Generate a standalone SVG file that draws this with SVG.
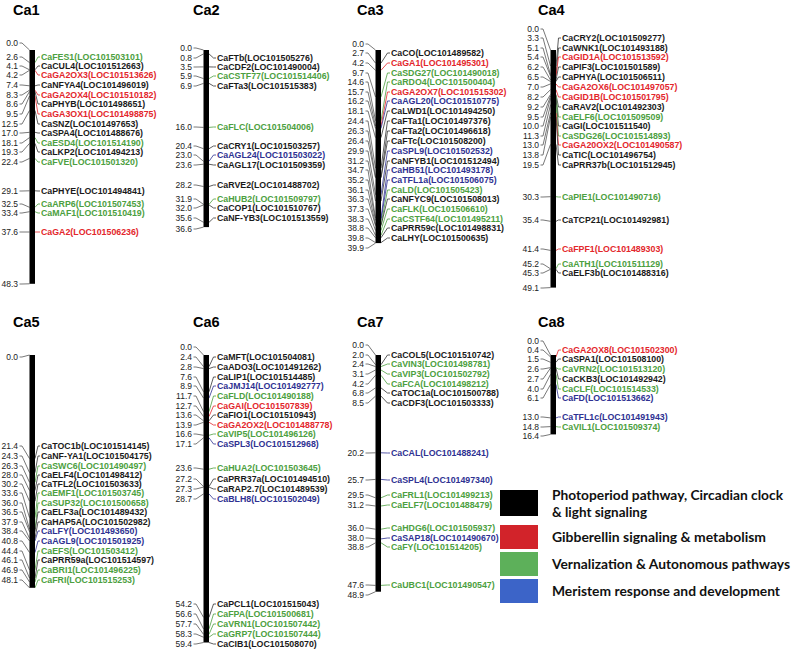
<svg xmlns="http://www.w3.org/2000/svg" width="793" height="658" viewBox="0 0 793 658">
<style>
text{font-family:"Liberation Sans",Arial,sans-serif;dominant-baseline:central}
.t{font-weight:bold;font-size:14.5px;fill:#000;dominant-baseline:auto}
.n{font-size:8.5px;fill:#222;text-anchor:end}
.g{font-weight:bold;font-size:8.8px}
.k{fill:#1a1a1a}.r{fill:#e3262b}.gr{fill:#4ca040}.b{fill:#2e3192}
.bar{fill:#000}
#connectors path{fill:none;stroke-width:0.8}
.ck{stroke:#333}.cl{stroke:#555}.cr{stroke:#e3262b}.cg{stroke:#4ca040}.cb{stroke:#2e3192}
.lg{font-family:Lato,"Liberation Sans",sans-serif;font-weight:bold;font-size:13.5px;fill:#111;dominant-baseline:auto}
</style>
<g id="connectors">
<g class="cl">
<path d="M19.5 43H22L29.5 50"/><path d="M19.5 57H22L29.5 62.6"/><path d="M19.5 66H22L29.5 69.8"/><path d="M19.5 75H22L29.5 70.3"/><path d="M19.5 85H22L29.5 85.8"/><path d="M19.5 95H22L29.5 90.2"/><path d="M19.5 104H22L29.5 91.6"/><path d="M19.5 114H22L29.5 96"/><path d="M19.5 124H22L29.5 110.5"/><path d="M19.5 133H22L29.5 132.3"/><path d="M19.5 143H22L29.5 137.6"/><path d="M19.5 152H22L29.5 143.4"/><path d="M19.5 162H22L29.5 158.4"/><path d="M19.5 191H22L29.5 190.8"/><path d="M19.5 204H22L29.5 207.3"/><path d="M19.5 213H22L29.5 211.7"/><path d="M19.5 232H22L29.5 232"/><path d="M19.5 284H22L29.5 283.8"/>
<path d="M193.5 48H196L203.5 50"/><path d="M193.5 58H196L203.5 53.9"/><path d="M193.5 67H196L203.5 66.9"/><path d="M193.5 76H196L203.5 78.6"/><path d="M193.5 86H196L203.5 83.4"/><path d="M193.5 127H196L203.5 127.4"/><path d="M193.5 146H196L203.5 148.7"/><path d="M193.5 155H196L203.5 161.3"/><path d="M193.5 165H196L203.5 164.2"/><path d="M193.5 185H196L203.5 186.5"/><path d="M193.5 199H196L203.5 204.4"/><path d="M193.5 208H196L203.5 204.9"/><path d="M193.5 218H196L203.5 222.3"/><path d="M193.5 229H196L203.5 227.1"/>
<path d="M365.5 44H368L375.5 50"/><path d="M365.5 53H368L375.5 63.1"/><path d="M365.5 63H368L375.5 70.3"/><path d="M365.5 73H368L375.5 96.9"/><path d="M365.5 82H368L375.5 120.7"/><path d="M365.5 92H368L375.5 126"/><path d="M365.5 101H368L375.5 128.4"/><path d="M365.5 111H368L375.5 137.6"/><path d="M365.5 121H368L375.5 168.1"/><path d="M365.5 131H368L375.5 177.3"/><path d="M365.5 141H368L375.5 177.8"/><path d="M365.5 151H368L375.5 194.7"/><path d="M365.5 161H368L375.5 201"/><path d="M365.5 170H368L375.5 218"/><path d="M365.5 180H368L375.5 220.4"/><path d="M365.5 190H368L375.5 224.7"/><path d="M365.5 199H368L375.5 225.7"/><path d="M365.5 209H368L375.5 230.5"/><path d="M365.5 219H368L375.5 235.4"/><path d="M365.5 228H368L375.5 237.8"/><path d="M365.5 238H368L375.5 242.6"/><path d="M365.5 248H368L375.5 243.1"/>
<path d="M540.5 29H543L550.5 50"/><path d="M540.5 38H543L550.5 66"/><path d="M540.5 48H543L550.5 74.7"/><path d="M540.5 57H543L550.5 76.1"/><path d="M540.5 67H543L550.5 80"/><path d="M540.5 77H543L550.5 81.5"/><path d="M540.5 87H543L550.5 83.9"/><path d="M540.5 97H543L550.5 89.7"/><path d="M540.5 107H543L550.5 94.5"/><path d="M540.5 117H543L550.5 96"/><path d="M540.5 126H543L550.5 98.4"/><path d="M540.5 136H543L550.5 104.7"/><path d="M540.5 145H543L550.5 112.9"/><path d="M540.5 155H543L550.5 116.8"/><path d="M540.5 165H543L550.5 144.4"/><path d="M540.5 197H543L550.5 196.7"/><path d="M540.5 220H543L550.5 221.3"/><path d="M540.5 249H543L550.5 250.4"/><path d="M540.5 264H543L550.5 268.8"/><path d="M540.5 273H543L550.5 269.3"/><path d="M540.5 288H543L550.5 287.6"/>
<path d="M19.5 357H22L29.5 355"/><path d="M19.5 446H22L29.5 458.6"/><path d="M19.5 456H22L29.5 472.6"/><path d="M19.5 466H22L29.5 482.3"/><path d="M19.5 475H22L29.5 490.5"/><path d="M19.5 484H22L29.5 501.2"/><path d="M19.5 493H22L29.5 517.6"/><path d="M19.5 503H22L29.5 529.2"/><path d="M19.5 512H22L29.5 531.7"/><path d="M19.5 522H22L29.5 538.4"/><path d="M19.5 531H22L29.5 540.9"/><path d="M19.5 541H22L29.5 552.5"/><path d="M19.5 551H22L29.5 569.9"/><path d="M19.5 560H22L29.5 578.1"/><path d="M19.5 570H22L29.5 582"/><path d="M19.5 580H22L29.5 587.8"/>
<path d="M193.5 347H196L203.5 355"/><path d="M193.5 357H196L203.5 366.6"/><path d="M193.5 367H196L203.5 368.6"/><path d="M193.5 377H196L203.5 391.8"/><path d="M193.5 386H196L203.5 398.1"/><path d="M193.5 396H196L203.5 411.6"/><path d="M193.5 406H196L203.5 416.5"/><path d="M193.5 415H196L203.5 420.8"/><path d="M193.5 425H196L203.5 422.3"/><path d="M193.5 434H196L203.5 435.3"/><path d="M193.5 444H196L203.5 437.8"/><path d="M193.5 468H196L203.5 469.2"/><path d="M193.5 479H196L203.5 486.6"/><path d="M193.5 489H196L203.5 487.1"/><path d="M193.5 499H196L203.5 493.9"/><path d="M193.5 604H196L203.5 617.3"/><path d="M193.5 614H196L203.5 628.9"/><path d="M193.5 624H196L203.5 634.3"/><path d="M193.5 634H196L203.5 637.2"/><path d="M193.5 644H196L203.5 642.5"/>
<path d="M365.5 345H368L375.5 355"/><path d="M365.5 355H368L375.5 364.7"/><path d="M365.5 364H368L375.5 366.6"/><path d="M365.5 374H368L375.5 370"/><path d="M365.5 384H368L375.5 375.3"/><path d="M365.5 393H368L375.5 387.9"/><path d="M365.5 403H368L375.5 396.1"/><path d="M365.5 453H368L375.5 452.8"/><path d="M365.5 480H368L375.5 479.4"/><path d="M365.5 495H368L375.5 497.8"/><path d="M365.5 505H368L375.5 506"/><path d="M365.5 528H368L375.5 529.2"/><path d="M365.5 538H368L375.5 538.9"/><path d="M365.5 547H368L375.5 542.8"/><path d="M365.5 585H368L375.5 585.4"/><path d="M365.5 595H368L375.5 591.7"/>
<path d="M540.5 341H543L550.5 355"/><path d="M540.5 350H543L550.5 356.9"/><path d="M540.5 359H543L550.5 362.3"/><path d="M540.5 369H543L550.5 367.6"/><path d="M540.5 379H543L550.5 368.1"/><path d="M540.5 389H543L550.5 374.4"/><path d="M540.5 398H543L550.5 384.5"/><path d="M540.5 417H543L550.5 417.9"/><path d="M540.5 427H543L550.5 426.6"/><path d="M540.5 436H543L550.5 434.4"/>
</g>
<path class="cg" d="M35 62.6L38 57H40"/><path class="ck" d="M35 69.8L38 66H40"/><path class="cr" d="M35 70.3L38 75H40"/><path class="ck" d="M35 85.8L38 85H40"/><path class="cr" d="M35 90.2L38 95H40"/><path class="ck" d="M35 91.6L38 104H40"/><path class="cr" d="M35 96L38 114H40"/><path class="ck" d="M35 110.5L38 124H40"/><path class="ck" d="M35 132.3L38 133H40"/><path class="cg" d="M35 137.6L38 143H40"/><path class="ck" d="M35 143.4L38 152H40"/><path class="cg" d="M35 158.4L38 162H40"/><path class="ck" d="M35 190.8L38 191H40"/><path class="cg" d="M35 207.3L38 204H40"/><path class="cg" d="M35 211.7L38 213H40"/><path class="cr" d="M35 232L38 232H40"/>
<path class="ck" d="M209 53.9L213.5 58H216"/><path class="ck" d="M209 66.9L213.5 67H216"/><path class="cg" d="M209 78.6L213.5 76H216"/><path class="ck" d="M209 83.4L213.5 86H216"/><path class="cg" d="M209 127.4L213.5 127H216"/><path class="ck" d="M209 148.7L213.5 146H216"/><path class="cb" d="M209 161.3L213.5 155H216"/><path class="ck" d="M209 164.2L213.5 165H216"/><path class="ck" d="M209 186.5L213.5 185H216"/><path class="cg" d="M209 204.4L213.5 199H216"/><path class="ck" d="M209 204.9L213.5 208H216"/><path class="ck" d="M209 222.3L213.5 218H216"/>
<path class="ck" d="M381 63.1L387.5 53H390"/><path class="cr" d="M381 70.3L387.5 63H390"/><path class="cg" d="M381 96.9L387.5 73H390"/><path class="cg" d="M381 120.7L387.5 82H390"/><path class="cr" d="M381 126L387.5 92H390"/><path class="cb" d="M381 128.4L387.5 101H390"/><path class="ck" d="M381 137.6L387.5 111H390"/><path class="ck" d="M381 168.1L387.5 121H390"/><path class="ck" d="M381 177.3L387.5 131H390"/><path class="ck" d="M381 177.8L387.5 141H390"/><path class="cb" d="M381 194.7L387.5 151H390"/><path class="ck" d="M381 201L387.5 161H390"/><path class="cb" d="M381 218L387.5 170H390"/><path class="cb" d="M381 220.4L387.5 180H390"/><path class="cg" d="M381 224.7L387.5 190H390"/><path class="ck" d="M381 225.7L387.5 199H390"/><path class="cg" d="M381 230.5L387.5 209H390"/><path class="cg" d="M381 235.4L387.5 219H390"/><path class="ck" d="M381 237.8L387.5 228H390"/><path class="ck" d="M381 242.6L387.5 238H390"/>
<path class="ck" d="M556 66L558.5 38H561"/><path class="ck" d="M556 74.7L558.5 48H561"/><path class="cr" d="M556 76.1L558.5 57H561"/><path class="ck" d="M556 80L558.5 67H561"/><path class="ck" d="M556 81.5L558.5 77H561"/><path class="cr" d="M556 83.9L558.5 87H561"/><path class="cr" d="M556 89.7L558.5 97H561"/><path class="ck" d="M556 94.5L558.5 107H561"/><path class="cg" d="M556 96L558.5 117H561"/><path class="ck" d="M556 98.4L558.5 126H561"/><path class="cg" d="M556 104.7L558.5 136H561"/><path class="cr" d="M556 112.9L558.5 145H561"/><path class="ck" d="M556 116.8L558.5 155H561"/><path class="ck" d="M556 144.4L558.5 165H561"/><path class="cg" d="M556 196.7L558.5 197H561"/><path class="ck" d="M556 221.3L558.5 220H561"/><path class="cr" d="M556 250.4L558.5 249H561"/><path class="cg" d="M556 268.8L558.5 264H561"/><path class="ck" d="M556 269.3L558.5 273H561"/>
<path class="ck" d="M35 458.6L38 446H40"/><path class="ck" d="M35 472.6L38 456H40"/><path class="cg" d="M35 482.3L38 466H40"/><path class="ck" d="M35 490.5L38 475H40"/><path class="ck" d="M35 501.2L38 484H40"/><path class="cg" d="M35 517.6L38 493H40"/><path class="cg" d="M35 529.2L38 503H40"/><path class="ck" d="M35 531.7L38 512H40"/><path class="ck" d="M35 538.4L38 522H40"/><path class="cb" d="M35 540.9L38 531H40"/><path class="cb" d="M35 552.5L38 541H40"/><path class="cg" d="M35 569.9L38 551H40"/><path class="ck" d="M35 578.1L38 560H40"/><path class="cg" d="M35 582L38 570H40"/><path class="cg" d="M35 587.8L38 580H40"/>
<path class="ck" d="M209 366.6L213.5 357H216"/><path class="ck" d="M209 368.6L213.5 367H216"/><path class="ck" d="M209 391.8L213.5 377H216"/><path class="cb" d="M209 398.1L213.5 386H216"/><path class="cg" d="M209 411.6L213.5 396H216"/><path class="cr" d="M209 416.5L213.5 406H216"/><path class="ck" d="M209 420.8L213.5 415H216"/><path class="cr" d="M209 422.3L213.5 425H216"/><path class="cg" d="M209 435.3L213.5 434H216"/><path class="cb" d="M209 437.8L213.5 444H216"/><path class="cg" d="M209 469.2L213.5 468H216"/><path class="ck" d="M209 486.6L213.5 479H216"/><path class="ck" d="M209 487.1L213.5 489H216"/><path class="cb" d="M209 493.9L213.5 499H216"/><path class="ck" d="M209 617.3L213.5 604H216"/><path class="cg" d="M209 628.9L213.5 614H216"/><path class="cg" d="M209 634.3L213.5 624H216"/><path class="cg" d="M209 637.2L213.5 634H216"/><path class="ck" d="M209 642.5L213.5 644H216"/>
<path class="ck" d="M381 364.7L387.5 355H390"/><path class="cg" d="M381 366.6L387.5 364H390"/><path class="cg" d="M381 370L387.5 374H390"/><path class="cg" d="M381 375.3L387.5 384H390"/><path class="ck" d="M381 387.9L387.5 393H390"/><path class="ck" d="M381 396.1L387.5 403H390"/><path class="cb" d="M381 452.8L387.5 453H390"/><path class="cb" d="M381 479.4L387.5 480H390"/><path class="cg" d="M381 497.8L387.5 495H390"/><path class="cg" d="M381 506L387.5 505H390"/><path class="cg" d="M381 529.2L387.5 528H390"/><path class="cb" d="M381 538.9L387.5 538H390"/><path class="cg" d="M381 542.8L387.5 547H390"/><path class="cg" d="M381 585.4L387.5 585H390"/>
<path class="cr" d="M556 356.9L558.5 350H561"/><path class="ck" d="M556 362.3L558.5 359H561"/><path class="cg" d="M556 367.6L558.5 369H561"/><path class="ck" d="M556 368.1L558.5 379H561"/><path class="cg" d="M556 374.4L558.5 389H561"/><path class="cb" d="M556 384.5L558.5 398H561"/><path class="cb" d="M556 417.9L558.5 417H561"/><path class="cg" d="M556 426.6L558.5 427H561"/>
</g>
<g id="Ca1">
<text class="t" x="13" y="15">Ca1</text>
<rect class="bar" x="29.5" y="50" width="5.5" height="233.8"/>
<g class="n"><text x="18" y="43">0.0</text><text x="18" y="57">2.6</text><text x="18" y="66">4.1</text><text x="18" y="75">4.2</text><text x="18" y="85">7.4</text><text x="18" y="95">8.3</text><text x="18" y="104">8.6</text><text x="18" y="114">9.5</text><text x="18" y="124">12.5</text><text x="18" y="133">17.0</text><text x="18" y="143">18.1</text><text x="18" y="152">19.3</text><text x="18" y="162">22.4</text><text x="18" y="191">29.1</text><text x="18" y="204">32.5</text><text x="18" y="213">33.4</text><text x="18" y="232">37.6</text><text x="18" y="284">48.3</text></g>
<g class="g"><text class="gr" x="41" y="57">CaFES1(LOC101503101)</text><text class="k" x="41" y="66">CaCUL4(LOC101512663)</text><text class="r" x="41" y="75">CaGA2OX3(LOC101513626)</text><text class="k" x="41" y="85">CaNFYA4(LOC101496019)</text><text class="r" x="41" y="95">CaGA2OX4(LOC101510182)</text><text class="k" x="41" y="104">CaPHYB(LOC101498651)</text><text class="r" x="41" y="114">CaGA3OX1(LOC101498875)</text><text class="k" x="41" y="124">CaSNZ(LOC101497653)</text><text class="k" x="41" y="133">CaSPA4(LOC101488676)</text><text class="gr" x="41" y="143">CaESD4(LOC101514190)</text><text class="k" x="41" y="152">CaLKP2(LOC101494213)</text><text class="gr" x="41" y="162">CaFVE(LOC101501320)</text><text class="k" x="41" y="191">CaPHYE(LOC101494841)</text><text class="gr" x="41" y="204">CaARP6(LOC101507453)</text><text class="gr" x="41" y="213">CaMAF1(LOC101510419)</text><text class="r" x="41" y="232">CaGA2(LOC101506236)</text></g>
</g>
<g id="Ca2">
<text class="t" x="193" y="15">Ca2</text>
<rect class="bar" x="203.5" y="50" width="5.5" height="177.1"/>
<g class="n"><text x="192" y="48">0.0</text><text x="192" y="58">0.8</text><text x="192" y="67">3.5</text><text x="192" y="76">5.9</text><text x="192" y="86">6.9</text><text x="192" y="127">16.0</text><text x="192" y="146">20.4</text><text x="192" y="155">23.0</text><text x="192" y="165">23.6</text><text x="192" y="185">28.2</text><text x="192" y="199">31.9</text><text x="192" y="208">32.0</text><text x="192" y="218">35.6</text><text x="192" y="229">36.6</text></g>
<g class="g"><text class="k" x="217" y="58">CaFTb(LOC101505276)</text><text class="k" x="217" y="67">CaCDF2(LOC101490004)</text><text class="gr" x="217" y="76">CaCSTF77(LOC101514406)</text><text class="k" x="217" y="86">CaFTa3(LOC101515383)</text><text class="gr" x="217" y="127">CaFLC(LOC101504006)</text><text class="k" x="217" y="146">CaCRY1(LOC101503257)</text><text class="b" x="217" y="155">CaAGL24(LOC101503022)</text><text class="k" x="217" y="165">CaAGL17(LOC101509359)</text><text class="k" x="217" y="185">CaRVE2(LOC101488702)</text><text class="gr" x="217" y="199">CaHUB2(LOC101509797)</text><text class="k" x="217" y="208">CaCOP1(LOC101510767)</text><text class="k" x="217" y="218">CaNF-YB3(LOC101513559)</text></g>
</g>
<g id="Ca3">
<text class="t" x="357" y="15">Ca3</text>
<rect class="bar" x="375.5" y="50" width="5.5" height="193.1"/>
<g class="n"><text x="364" y="44">0.0</text><text x="364" y="53">2.7</text><text x="364" y="63">4.2</text><text x="364" y="73">9.7</text><text x="364" y="82">14.6</text><text x="364" y="92">15.7</text><text x="364" y="101">16.2</text><text x="364" y="111">18.1</text><text x="364" y="121">24.4</text><text x="364" y="131">26.3</text><text x="364" y="141">26.4</text><text x="364" y="151">29.9</text><text x="364" y="161">31.2</text><text x="364" y="170">34.7</text><text x="364" y="180">35.2</text><text x="364" y="190">36.1</text><text x="364" y="199">36.3</text><text x="364" y="209">37.3</text><text x="364" y="219">38.3</text><text x="364" y="228">38.8</text><text x="364" y="238">39.8</text><text x="364" y="248">39.9</text></g>
<g class="g"><text class="k" x="391" y="53">CaCO(LOC101489582)</text><text class="r" x="391" y="63">CaGA1(LOC101495301)</text><text class="gr" x="391" y="73">CaSDG27(LOC101490018)</text><text class="gr" x="391" y="82">CaRDO4(LOC101500404)</text><text class="r" x="391" y="92">CaGA2OX7(LOC101515302)</text><text class="b" x="391" y="101">CaAGL20(LOC101510775)</text><text class="k" x="391" y="111">CaLWD1(LOC101494250)</text><text class="k" x="391" y="121">CaFTa1(LOC101497376)</text><text class="k" x="391" y="131">CaFTa2(LOC101496618)</text><text class="k" x="391" y="141">CaFTc(LOC101508200)</text><text class="b" x="391" y="151">CaSPL9(LOC101502532)</text><text class="k" x="391" y="161">CaNFYB1(LOC101512494)</text><text class="b" x="391" y="170">CaHB51(LOC101493178)</text><text class="b" x="391" y="180">CaTFL1a(LOC101506075)</text><text class="gr" x="391" y="190">CaLD(LOC101505423)</text><text class="k" x="391" y="199">CaNFYC9(LOC101508013)</text><text class="gr" x="391" y="209">CaFLK(LOC101506610)</text><text class="gr" x="391" y="219">CaCSTF64(LOC101495211)</text><text class="k" x="391" y="228">CaPRR59c(LOC101498831)</text><text class="k" x="391" y="238">CaLHY(LOC101500635)</text></g>
</g>
<g id="Ca4">
<text class="t" x="538" y="15">Ca4</text>
<rect class="bar" x="550.5" y="50" width="5.5" height="237.6"/>
<g class="n"><text x="539" y="29">0.0</text><text x="539" y="38">3.3</text><text x="539" y="48">5.1</text><text x="539" y="57">5.4</text><text x="539" y="67">6.2</text><text x="539" y="77">6.5</text><text x="539" y="87">7.0</text><text x="539" y="97">8.2</text><text x="539" y="107">9.2</text><text x="539" y="117">9.5</text><text x="539" y="126">10.0</text><text x="539" y="136">11.3</text><text x="539" y="145">13.0</text><text x="539" y="155">13.8</text><text x="539" y="165">19.5</text><text x="539" y="197">30.3</text><text x="539" y="220">35.4</text><text x="539" y="249">41.4</text><text x="539" y="264">45.2</text><text x="539" y="273">45.3</text><text x="539" y="288">49.1</text></g>
<g class="g"><text class="k" x="562" y="38">CaCRY2(LOC101509277)</text><text class="k" x="562" y="48">CaWNK1(LOC101493188)</text><text class="r" x="562" y="57">CaGID1A(LOC101513592)</text><text class="k" x="562" y="67">CaPIF3(LOC101501589)</text><text class="k" x="562" y="77">CaPHYA(LOC101506511)</text><text class="r" x="562" y="87">CaGA2OX6(LOC101497057)</text><text class="r" x="562" y="97">CaGID1B(LOC101501795)</text><text class="k" x="562" y="107">CaRAV2(LOC101492303)</text><text class="gr" x="562" y="117">CaELF6(LOC101509509)</text><text class="k" x="562" y="126">CaGI(LOC101511540)</text><text class="gr" x="562" y="136">CaSDG26(LOC101514893)</text><text class="r" x="562" y="145">CaGA20OX2(LOC101490587)</text><text class="k" x="562" y="155">CaTIC(LOC101496754)</text><text class="k" x="562" y="165">CaPRR37b(LOC101512945)</text><text class="gr" x="562" y="197">CaPIE1(LOC101490716)</text><text class="k" x="562" y="220">CaTCP21(LOC101492981)</text><text class="r" x="562" y="249">CaFPF1(LOC101489303)</text><text class="gr" x="562" y="264">CaATH1(LOC101511129)</text><text class="k" x="562" y="273">CaELF3b(LOC101488316)</text></g>
</g>
<g id="Ca5">
<text class="t" x="13" y="327">Ca5</text>
<rect class="bar" x="29.5" y="355" width="5.5" height="232.8"/>
<g class="n"><text x="18" y="357">0.0</text><text x="18" y="446">21.4</text><text x="18" y="456">24.3</text><text x="18" y="466">26.3</text><text x="18" y="475">28.0</text><text x="18" y="484">30.2</text><text x="18" y="493">33.6</text><text x="18" y="503">36.0</text><text x="18" y="512">36.5</text><text x="18" y="522">37.9</text><text x="18" y="531">38.4</text><text x="18" y="541">40.8</text><text x="18" y="551">44.4</text><text x="18" y="560">46.1</text><text x="18" y="570">46.9</text><text x="18" y="580">48.1</text></g>
<g class="g"><text class="k" x="41" y="446">CaTOC1b(LOC101514145)</text><text class="k" x="41" y="456">CaNF-YA1(LOC101504175)</text><text class="gr" x="41" y="466">CaSWC6(LOC101490497)</text><text class="k" x="41" y="475">CaELF4(LOC101498412)</text><text class="k" x="41" y="484">CaTFL2(LOC101503633)</text><text class="gr" x="41" y="493">CaEMF1(LOC101503745)</text><text class="gr" x="41" y="503">CaSUP32(LOC101500658)</text><text class="k" x="41" y="512">CaELF3a(LOC101489432)</text><text class="k" x="41" y="522">CaHAP5A(LOC101502982)</text><text class="b" x="41" y="531">CaLFY(LOC101493650)</text><text class="b" x="41" y="541">CaAGL9(LOC101501925)</text><text class="gr" x="41" y="551">CaEFS(LOC101503412)</text><text class="k" x="41" y="560">CaPRR59a(LOC101514597)</text><text class="gr" x="41" y="570">CaBRI1(LOC101496225)</text><text class="gr" x="41" y="580">CaFRI(LOC101515253)</text></g>
</g>
<g id="Ca6">
<text class="t" x="193" y="327">Ca6</text>
<rect class="bar" x="203.5" y="355" width="5.5" height="287.5"/>
<g class="n"><text x="192" y="347">0.0</text><text x="192" y="357">2.4</text><text x="192" y="367">2.8</text><text x="192" y="377">7.6</text><text x="192" y="386">8.9</text><text x="192" y="396">11.7</text><text x="192" y="406">12.7</text><text x="192" y="415">13.6</text><text x="192" y="425">13.9</text><text x="192" y="434">16.6</text><text x="192" y="444">17.1</text><text x="192" y="468">23.6</text><text x="192" y="479">27.2</text><text x="192" y="489">27.3</text><text x="192" y="499">28.7</text><text x="192" y="604">54.2</text><text x="192" y="614">56.6</text><text x="192" y="624">57.7</text><text x="192" y="634">58.3</text><text x="192" y="644">59.4</text></g>
<g class="g"><text class="k" x="217" y="357">CaMFT(LOC101504081)</text><text class="k" x="217" y="367">CaADO3(LOC101491262)</text><text class="k" x="217" y="377">CaLIP1(LOC101514485)</text><text class="b" x="217" y="386">CaJMJ14(LOC101492777)</text><text class="gr" x="217" y="396">CaFLD(LOC101490188)</text><text class="r" x="217" y="406">CaGAI(LOC101507839)</text><text class="k" x="217" y="415">CaFIO1(LOC101510943)</text><text class="r" x="217" y="425">CaGA2OX2(LOC101488778)</text><text class="gr" x="217" y="434">CaVIP5(LOC101496126)</text><text class="b" x="217" y="444">CaSPL3(LOC101512968)</text><text class="gr" x="217" y="468">CaHUA2(LOC101503645)</text><text class="k" x="217" y="479">CaPRR37a(LOC101494510)</text><text class="k" x="217" y="489">CaRAP2.7(LOC101489539)</text><text class="b" x="217" y="499">CaBLH8(LOC101502049)</text><text class="k" x="217" y="604">CaPCL1(LOC101515043)</text><text class="gr" x="217" y="614">CaFPA(LOC101500681)</text><text class="gr" x="217" y="624">CaVRN1(LOC101507442)</text><text class="gr" x="217" y="634">CaGRP7(LOC101507444)</text><text class="k" x="217" y="644">CaCIB1(LOC101508070)</text></g>
</g>
<g id="Ca7">
<text class="t" x="357" y="327">Ca7</text>
<rect class="bar" x="375.5" y="355" width="5.5" height="236.7"/>
<g class="n"><text x="364" y="345">0.0</text><text x="364" y="355">2.0</text><text x="364" y="364">2.4</text><text x="364" y="374">3.1</text><text x="364" y="384">4.2</text><text x="364" y="393">6.8</text><text x="364" y="403">8.5</text><text x="364" y="453">20.2</text><text x="364" y="480">25.7</text><text x="364" y="495">29.5</text><text x="364" y="505">31.2</text><text x="364" y="528">36.0</text><text x="364" y="538">38.0</text><text x="364" y="547">38.8</text><text x="364" y="585">47.6</text><text x="364" y="595">48.9</text></g>
<g class="g"><text class="k" x="391" y="355">CaCOL5(LOC101510742)</text><text class="gr" x="391" y="364">CaVIN3(LOC101498781)</text><text class="gr" x="391" y="374">CaVIP3(LOC101502792)</text><text class="gr" x="391" y="384">CaFCA(LOC101498212)</text><text class="k" x="391" y="393">CaTOC1a(LOC101500788)</text><text class="k" x="391" y="403">CaCDF3(LOC101503333)</text><text class="b" x="391" y="453">CaCAL(LOC101488241)</text><text class="b" x="391" y="480">CaSPL4(LOC101497340)</text><text class="gr" x="391" y="495">CaFRL1(LOC101499213)</text><text class="gr" x="391" y="505">CaELF7(LOC101488479)</text><text class="gr" x="391" y="528">CaHDG6(LOC101505937)</text><text class="b" x="391" y="538">CaSAP18(LOC101490670)</text><text class="gr" x="391" y="547">CaFY(LOC101514205)</text><text class="gr" x="391" y="585">CaUBC1(LOC101490547)</text></g>
</g>
<g id="Ca8">
<text class="t" x="538" y="327">Ca8</text>
<rect class="bar" x="550.5" y="355" width="5.5" height="79.4"/>
<g class="n"><text x="539" y="341">0.0</text><text x="539" y="350">0.4</text><text x="539" y="359">1.5</text><text x="539" y="369">2.6</text><text x="539" y="379">2.7</text><text x="539" y="389">4.0</text><text x="539" y="398">6.1</text><text x="539" y="417">13.0</text><text x="539" y="427">14.8</text><text x="539" y="436">16.4</text></g>
<g class="g"><text class="r" x="562" y="350">CaGA2OX8(LOC101502300)</text><text class="k" x="562" y="359">CaSPA1(LOC101508100)</text><text class="gr" x="562" y="369">CaVRN2(LOC101513120)</text><text class="k" x="562" y="379">CaCKB3(LOC101492942)</text><text class="gr" x="562" y="389">CaCLF(LOC101514533)</text><text class="b" x="562" y="398">CaFD(LOC101513662)</text><text class="b" x="562" y="417">CaTFL1c(LOC101491943)</text><text class="gr" x="562" y="427">CaVIL1(LOC101509374)</text></g>
</g>
<g id="legend">
<rect x="500" y="490" width="38" height="26" fill="#000"/>
<rect x="500" y="525" width="38" height="24" fill="#d2232a"/>
<rect x="500" y="552" width="38" height="24" fill="#5db05a"/>
<rect x="500" y="579" width="38" height="24" fill="#3c64c8"/>
<text class="lg" x="552" y="500" textLength="231" lengthAdjust="spacingAndGlyphs">Photoperiod pathway, Circadian clock</text>
<text class="lg" x="552" y="517" textLength="95" lengthAdjust="spacingAndGlyphs">&amp; light signaling</text>
<text class="lg" x="552" y="542" textLength="214" lengthAdjust="spacingAndGlyphs">Gibberellin signaling &amp; metabolism</text>
<text class="lg" x="552" y="569" textLength="238" lengthAdjust="spacingAndGlyphs">Vernalization &amp; Autonomous pathways</text>
<text class="lg" x="552" y="596" textLength="228" lengthAdjust="spacingAndGlyphs">Meristem response and development</text>
</g>
</svg>
